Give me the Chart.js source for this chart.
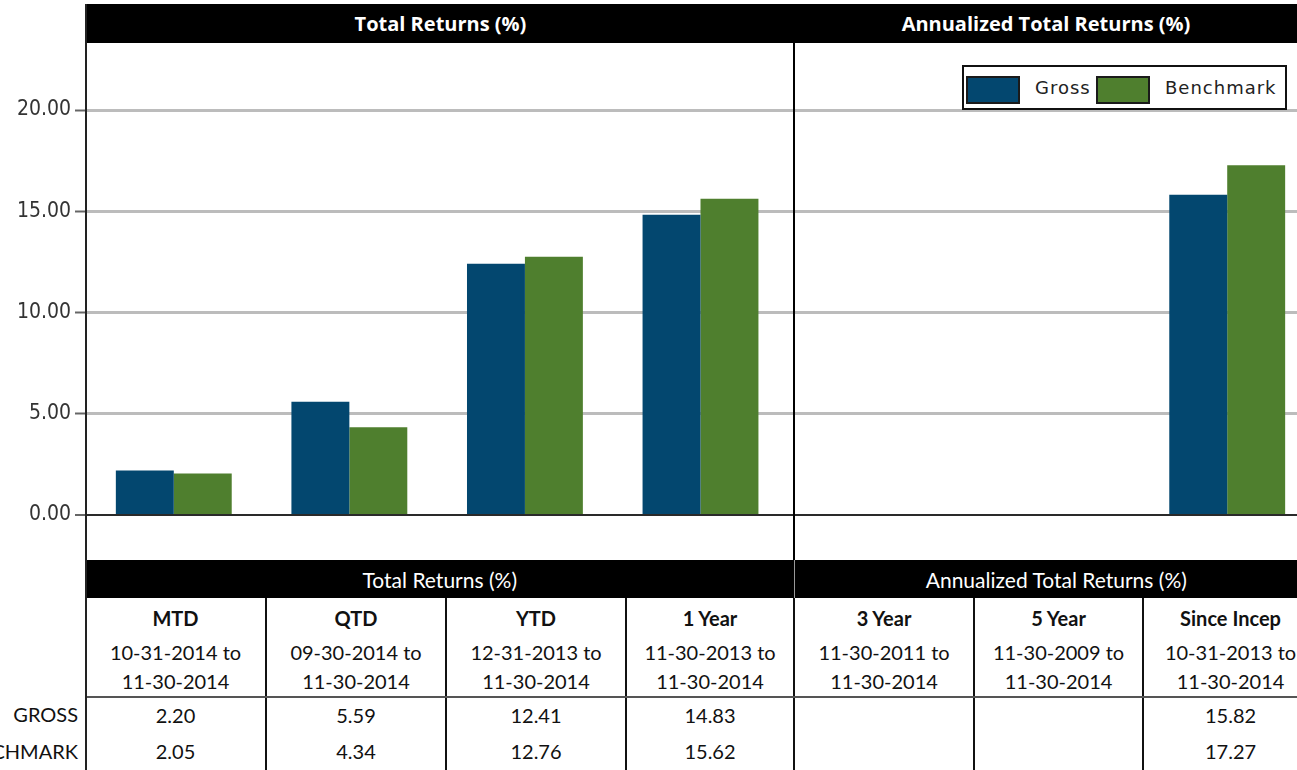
<!DOCTYPE html>
<html>
<head>
<meta charset="utf-8">
<script src="https://cdn.jsdelivr.net/npm/chart.js@4.4.1/dist/chart.umd.min.js"></script>
<style>
body { margin: 0; width: 1297px; height: 770px; overflow: hidden; background: #fff; position: relative; font-family: Lato, "Open Sans", sans-serif; }
.hdr { position: absolute; top: 4px; left: 86px; width: 1211px; height: 39px; background: #000; color: #fff; font-weight: bold; font-size: 20px; font-family: "Open Sans", Lato, sans-serif; }
.hdr span { position: absolute; top: 0; line-height: 39px; text-align: center; }
#wrap { position: absolute; left: 0; top: 43px; width: 1315px; height: 517px; }
#axisLine { position: absolute; left: 85px; top: 4px; width: 2px; height: 766px; background: #222; z-index: 5; }
#sep { position: absolute; left: 793px; top: 43px; width: 2px; height: 517px; background: #000; }
#legend { position: absolute; left: 962px; top: 65px; width: 321px; height: 41px; border: 2px solid #111; background: #fff; font-family: "DejaVu Sans", sans-serif; font-size: 18px; letter-spacing: 1px; color: #222; }
#legend .sw { position: absolute; top: 9px; width: 50px; height: 24px; border: 2px solid #1a1a1a; }
#legend .lb { position: absolute; top: 0; line-height: 41px; }
table { position: absolute; top: 560px; left: -54px; width: 1372px; border-collapse: collapse; table-layout: fixed; font-size: 20px; color: #111; }
td, th { padding: 0; text-align: center; }
th.band { background: #000; color: #fff; font-weight: normal; font-size: 21px; height: 38px; }
td.lab { text-align: right; padding-right: 8px; white-space: nowrap; }
td.col { border-right: 2px solid #111; }
tr.heads td.col { border-bottom: 2px solid #555; height: 96px; vertical-align: top; }
tr.vals td { height: 33px; padding-bottom: 3px; vertical-align: middle; }
.pname { font-weight: bold; height: 40px; line-height: 40px; }
.pdate { line-height: 29px; }
</style>
</head>
<body>
<div class="hdr">
  <span style="left:0;width:709px">Total Returns (%)</span>
  <span style="left:709px;width:502px">Annualized Total Returns (%)</span>
</div>
<div id="wrap"><canvas id="returnsChart" width="1315" height="517"></canvas></div>
<div id="sep"></div>
<div id="legend"></div>
<table id="returnsTable"></table>
<div id="axisLine"></div>
<script>
const periods = ['MTD', 'QTD', 'YTD', '1 Year', '3 Year', '5 Year', 'Since Incep'];
const periodStarts = ['10-31-2014', '09-30-2014', '12-31-2013', '11-30-2013', '11-30-2011', '11-30-2009', '10-31-2013'];
const periodEnd = '11-30-2014';
const grossReturns = [2.20, 5.59, 12.41, 14.83, null, null, 15.82];
const benchmarkReturns = [2.05, 4.34, 12.76, 15.62, null, null, 17.27];
const yTicks = [0, 5, 10, 15, 20];

const grossColor = '#03476f';
const benchColor = '#4f7f2e';

const ctx = document.getElementById('returnsChart');
const chart = new Chart(ctx, {
    type: 'bar',
    data: {
        labels: periods,
        datasets: [
            { label: 'Gross', data: grossReturns, backgroundColor: grossColor },
            { label: 'Benchmark', data: benchmarkReturns, backgroundColor: benchColor }
        ]
    },
    options: {
        responsive: false,
        animation: false,
        layout: { padding: 0 },
        plugins: { legend: { display: false }, tooltip: { enabled: false } },
        datasets: { bar: { categoryPercentage: 0.66, barPercentage: 1.0 } },
        scales: {
            x: { display: false },
            y: {
                min: -2.22,
                max: 23.31,
                afterBuildTicks: s => { s.ticks = yTicks.map(v => ({ value: v })); },
                afterFit: s => { s.width = 86; s.paddingTop = 0; s.paddingBottom = 0; },
                border: { display: false },
                grid: {
                    color: c => (c.tick && c.tick.value === 0) ? '#2a2a2a' : '#bcbcbc',
                    lineWidth: c => (c.tick && c.tick.value === 0) ? 2 : 3,
                    tickLength: 11,
                    tickColor: '#666',
                    tickWidth: 2
                },
                ticks: {
                    padding: 4,
                    color: '#333',
                    font: { family: '"DejaVu Sans Condensed", "DejaVu Sans", sans-serif', size: 21 },
                    callback: v => Number(v).toFixed(2)
                }
            }
        }
    }
});

// legend box
const legend = document.getElementById('legend');
const legendPos = [{ sw: 2, lb: 71 }, { sw: 132, lb: 201 }];
chart.data.datasets.forEach((ds, i) => {
    legend.insertAdjacentHTML('beforeend',
        '<div class="sw" style="left:' + legendPos[i].sw + 'px;background:' + ds.backgroundColor + '"></div>' +
        '<div class="lb" style="left:' + legendPos[i].lb + 'px">' + ds.label + '</div>');
});

// table below the chart
const colWidths = [140, 180, 180, 180, 168, 180, 169, 175];
const fmt = v => v == null ? '' : v.toFixed(2);
let html = '<colgroup>' + colWidths.map(w => '<col style="width:' + w + 'px">').join('') + '</colgroup>';
html += '<tr><td></td><th class="band" colspan="4">Total Returns (%)</th>' +
        '<th class="band" colspan="3" style="border-left:1px solid #999">Annualized Total Returns (%)</th></tr>';
html += '<tr class="heads"><td class="lab"></td>' + periods.map((p, i) =>
    '<td class="col"><div class="pname">' + p + '</div><div class="pdate">' + periodStarts[i] + ' to<br>' + periodEnd + '</div></td>').join('') + '</tr>';
html += '<tr class="vals"><td class="lab">GROSS</td>' + grossReturns.map(v => '<td class="col">' + fmt(v) + '</td>').join('') + '</tr>';
html += '<tr class="vals"><td class="lab">BENCHMARK</td>' + benchmarkReturns.map(v => '<td class="col">' + fmt(v) + '</td>').join('') + '</tr>';
document.getElementById('returnsTable').innerHTML = html;
</script>
</body>
</html>
